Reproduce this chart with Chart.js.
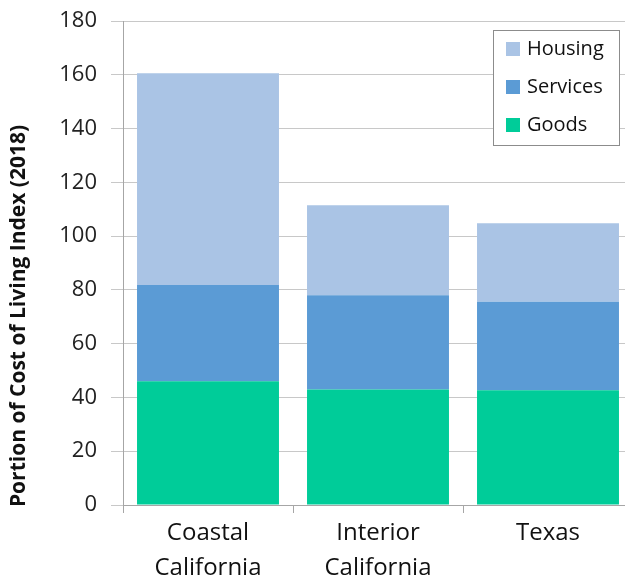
<!DOCTYPE html>
<html>
<head>
<meta charset="utf-8">
<script src="https://cdn.jsdelivr.net/npm/chart.js@4"></script>
<style>
  html, body { margin: 0; padding: 0; background: #fff; overflow: hidden; }
  #wrap { width: 625px; height: 581px; overflow: hidden; }
  #wrap div { width: 640px; height: 581px; }
</style>
</head>
<body>
<div id="wrap"><div><canvas id="costChart" width="640" height="581"></canvas></div></div>
<script>
// datos
const regiones = [['Coastal', 'California'], ['Interior', 'California'], 'Texas'];
const bienes = [46, 43, 42.7];
const servicios = [35.8, 35, 32.9];
const vivienda = [78.8, 33.5, 29.2];
const ticksY = [0, 20, 40, 60, 80, 100, 120, 140, 160, 180];
const tituloY = 'Portion of Cost of Living Index (2018)';

const fuente = '"Open Sans", Lato, sans-serif';

// leyenda con borde, dentro del area del grafico
const leyendaCaja = {
    id: 'leyendaCaja',
    afterDraw(chart) {
        const ctx = chart.ctx;
        const x = 493, y = 30, w = 126, h = 115;
        ctx.save();
        ctx.fillStyle = '#fff';
        ctx.fillRect(x, y, w, h);
        ctx.strokeStyle = '#8c8c8c';
        ctx.lineWidth = 1;
        ctx.strokeRect(x + 0.5, y + 0.5, w, h);
        const orden = chart.data.datasets.slice().reverse();
        ctx.font = '20px ' + fuente;
        ctx.textBaseline = 'middle';
        orden.forEach((ds, i) => {
            const cy = 49 + i * 38;
            ctx.fillStyle = ds.backgroundColor;
            ctx.fillRect(506, cy - 7, 14, 14);
            ctx.fillStyle = '#111';
            ctx.fillText(ds.label, 527, cy);
        });
        ctx.restore();
    }
};

// titulo del eje Y
const tituloEje = {
    id: 'tituloEje',
    afterDraw(chart) {
        const ctx = chart.ctx;
        ctx.save();
        ctx.translate(19, 316);
        ctx.rotate(-Math.PI / 2);
        ctx.font = 'bold 21px ' + fuente;
        ctx.fillStyle = '#111';
        ctx.textAlign = 'center';
        ctx.textBaseline = 'middle';
        ctx.fillText(tituloY, 0, 0);
        ctx.restore();
    }
};

new Chart(document.getElementById('costChart'), {
    type: 'bar',
    data: {
        labels: regiones,
        datasets: [
            { label: 'Goods', data: bienes, backgroundColor: '#00CC99' },
            { label: 'Services', data: servicios, backgroundColor: '#5B9BD5' },
            { label: 'Housing', data: vivienda, backgroundColor: '#AAC4E5' }
        ]
    },
    options: {
        responsive: false,
        animation: false,
        layout: { padding: { top: 21, right: 7, left: 0, bottom: 0 } },
        datasets: { bar: { categoryPercentage: 0.835, barPercentage: 1 } },
        plugins: {
            legend: { display: false },
            tooltip: { enabled: false }
        },
        scales: {
            x: {
                stacked: true,
                afterFit: (s) => { s.height = 76; s.paddingLeft = 0; s.paddingRight = 0; },
                border: { color: '#a6a6a6' },
                grid: { offset: true, drawOnChartArea: false, tickLength: 8, color: '#a6a6a6' },
                ticks: { color: '#111', font: { family: fuente, size: 24, lineHeight: 1.46 }, padding: 3 }
            },
            y: {
                stacked: true,
                min: 0,
                max: 180,
                afterFit: (s) => { s.width = 123; s.paddingTop = 0; s.paddingBottom = 0; },
                afterBuildTicks: (s) => { s.ticks = ticksY.map(v => ({ value: v })); },
                border: { color: '#a6a6a6' },
                grid: { color: '#c8c8c8', tickLength: 12 },
                ticks: { color: '#222', font: { family: fuente, size: 22 }, padding: 14 }
            }
        }
    },
    plugins: [leyendaCaja, tituloEje]
});
</script>
</body>
</html>
